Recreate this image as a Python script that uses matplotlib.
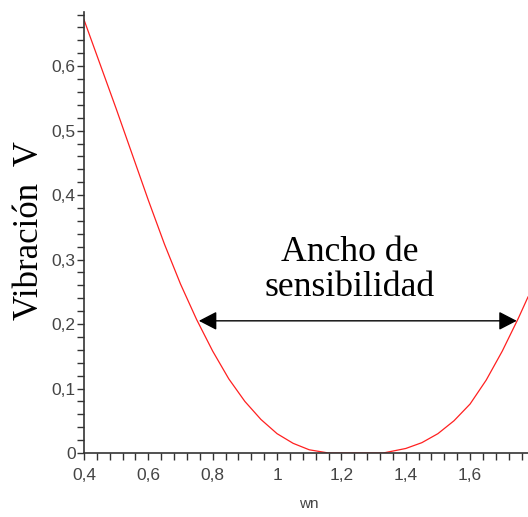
import numpy as np
import matplotlib
matplotlib.use("Agg")
import matplotlib.pyplot as plt
from matplotlib.ticker import MultipleLocator, FuncFormatter

# curve (wn, V)
wn = [0.40, 0.45, 0.50, 0.55, 0.60, 0.65, 0.70, 0.75, 0.80, 0.85, 0.90, 0.95,
      1.00, 1.05, 1.10, 1.16, 1.33, 1.40, 1.45, 1.50, 1.55, 1.60, 1.65, 1.70,
      1.75, 1.78]
vib = [0.672, 0.603, 0.534, 0.463, 0.392, 0.324, 0.262, 0.207, 0.158, 0.115,
       0.080, 0.052, 0.030, 0.015, 0.005, 0.0, 0.0, 0.007, 0.016, 0.030,
       0.050, 0.076, 0.113, 0.158, 0.209, 0.242]

# band marked by the arrow
band_left = 0.757
band_right = 1.745
band_level = 0.205

fig = plt.figure(figsize=(5.28, 5.17), dpi=100)
ax = fig.add_axes([84/528, 64/517, 1 - 84/528, (453 - 12)/517])

ax.plot(wn, vib, color="#ff2020", lw=0.9, zorder=2)

ax.set_xlim(0.4, 1.78)
ax.set_ylim(0, 0.684)
ax.spines["top"].set_visible(False)
ax.spines["right"].set_visible(False)
for s in ["left", "bottom"]:
    ax.spines[s].set_color("#333333")
    ax.spines[s].set_linewidth(1.2)
    ax.spines[s].set_zorder(3)

ax.xaxis.set_major_locator(MultipleLocator(0.2))
ax.xaxis.set_minor_locator(MultipleLocator(0.04))
ax.yaxis.set_major_locator(MultipleLocator(0.1))
ax.yaxis.set_minor_locator(MultipleLocator(0.02))


def comma(v, pos):
    s = ("%.1f" % v).rstrip("0").rstrip(".")
    return s.replace(".", ",")


ax.xaxis.set_major_formatter(FuncFormatter(comma))
ax.yaxis.set_major_formatter(FuncFormatter(comma))

ax.tick_params(axis="both", which="both", direction="out", length=5,
               width=1, color="#333333", labelcolor="#444444",
               labelsize=12.5)
ax.tick_params(axis="x", which="major", pad=6)
ax.tick_params(axis="y", which="major", pad=1)
for lab in ax.get_xticklabels() + ax.get_yticklabels():
    lab.set_family("Liberation Sans")

ax.annotate("", xy=(band_left, band_level), xytext=(band_right, band_level),
            arrowprops=dict(arrowstyle="<|-|>,head_length=1.1,head_width=0.57",
                            color="black", lw=1, shrinkA=0, shrinkB=0,
                            mutation_scale=10))

ax.text(1.225, 0.284, "Ancho de\nsensibilidad", ha="center", va="center",
        fontsize=25.7, family="Liberation Serif", linespacing=1.05)

fig.text(30/528, 1 - 231/517, "Vibración  V", rotation=90, ha="center",
         va="center", fontsize=25, family="Liberation Serif")
fig.text(309/528, 1 - 504/517, "wn", ha="center", va="center", fontsize=11,
         family="Liberation Sans", color="#444444")

fig.savefig("out.png", dpi=100)
